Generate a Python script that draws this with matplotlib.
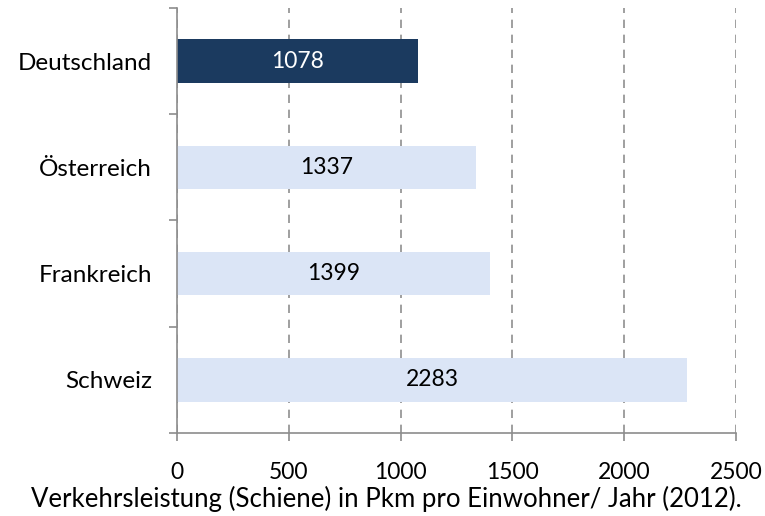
#!/usr/bin/env python3
"""Rail passenger-km per inhabitant, 2012 (horizontal bars)."""

import matplotlib

matplotlib.use("Agg")
import matplotlib.pyplot as plt
from matplotlib.ticker import FixedLocator

countries = ["Deutschland", "Österreich", "Frankreich", "Schweiz"]
pkm = [1078, 1337, 1399, 2283]
x_ticks = [0, 500, 1000, 1500, 2000, 2500]

DARK = "#1b3a5f"
LIGHT = "#dbe5f6"
GREY = "#8c8c8c"

plt.rcParams["font.family"] = ["Lato", "DejaVu Sans"]

fig = plt.figure(figsize=(7.65, 5.16), dpi=100)
ax = fig.add_axes([0.2314, 0.161, 0.9621 - 0.2314, 0.9845 - 0.161])

ypos = list(range(len(countries)))
colors = [DARK] + [LIGHT] * (len(countries) - 1)
bars = ax.barh(ypos, pkm, height=0.41, color=colors, zorder=2)

for i, (bar, value) in enumerate(zip(bars, pkm)):
    ax.text(
        bar.get_x() + bar.get_width() / 2,
        bar.get_y() + bar.get_height() / 2,
        f"{value}",
        ha="center",
        va="center",
        fontsize=16.5,
        color="white" if i == 0 else "black",
        zorder=3,
    )

ax.set_xlim(0, 2500)
ax.set_ylim(len(countries) - 0.5, -0.5)
ax.set_xticks(x_ticks)
ax.set_yticks(ypos)
ax.set_yticklabels(countries)
ax.yaxis.set_minor_locator(FixedLocator([i - 0.5 for i in range(len(countries) + 1)]))
ax.tick_params(axis="y", which="major", length=0, pad=18, labelsize=17.5)
ax.tick_params(axis="y", which="minor", length=6, width=1.2, color=GREY)
ax.tick_params(axis="x", length=6, width=1.2, color=GREY, labelsize=16.5, pad=15)

ax.grid(axis="x", linestyle=(0, (5, 4)), color="#8f8f8f", linewidth=1.2, zorder=0)
for side in ("top", "right"):
    ax.spines[side].set_visible(False)
for side in ("left", "bottom"):
    ax.spines[side].set_color(GREY)
    ax.spines[side].set_linewidth(1.2)

ax.set_xlabel("Verkehrsleistung (Schiene) in Pkm pro Einwohner/ Jahr (2012).", fontsize=18.5, labelpad=2)
ax.xaxis.label.set_x(0.374)

fig.savefig("out.png")
